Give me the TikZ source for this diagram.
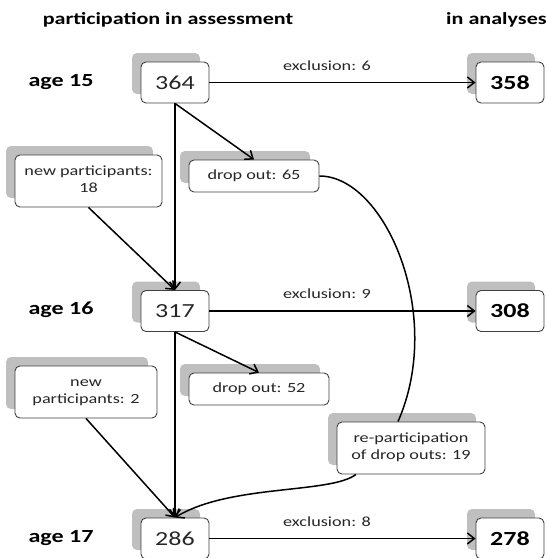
\documentclass[tikz,border=0pt]{standalone}
\usepackage{fontspec}
\setmainfont{Carlito}
\usetikzlibrary{arrows.meta,shadows}
\newcommand\sx[1]{\scalebox{1.3}[1]{#1}}
\definecolor{shadowgray}{HTML}{BFBFBF}
\definecolor{boxline}{HTML}{404040}
\definecolor{txt}{HTML}{262626}
\begin{document}
\begin{tikzpicture}[x=1pt,y=-1pt,
  box/.style={draw=boxline, line width=0.9pt, rounded corners=5pt, fill=white, inner sep=0pt, text=txt,
    general shadow={shadow xshift=-9pt, shadow yshift=9pt, fill=shadowgray}},
  numbox/.style={box, minimum width=68pt, minimum height=41pt, font=\fontsize{20}{24}\selectfont},
  resbox/.style={numbox, text=black, font=\fontsize{20}{24}\selectfont\bfseries},
  smallbox/.style={box, font=\fontsize{14}{17}\selectfont},
  lbl/.style={font=\fontsize{14}{17}\selectfont, inner sep=0pt, text=txt},
  age/.style={font=\fontsize{18.5}{22}\selectfont\bfseries, inner sep=0pt},
  head/.style={font=\fontsize{17}{20}\selectfont\bfseries, inner sep=0pt},
  conn/.style={line width=1.5pt},
  arr/.style={conn, -{Straight Barb[length=7pt,width=11pt]}}
]
\useasboundingbox (0,0) rectangle (547,558);
% headers
\node[head] (h1) at (168,20) {\sx{participation in assessment}};
\node[head, anchor=west] (h2) at (446,20) {\sx{in analyses}};
% age labels
\node[age] (a15) at (61,82) {\sx{age 15}};
\node[age] (a16) at (61,310) {\sx{age 16}};
\node[age] (a17) at (61,538) {\sx{age 17}};
% number boxes
\node[numbox] (n364) at (175,82.5) {\sx{364}};
\node[resbox] (r358) at (510,82.5) {\sx{358}};
\node[numbox] (n317) at (175,311) {\sx{317}};
\node[resbox] (r308) at (510,311) {\sx{308}};
\node[numbox] (n286) at (175,538.5) {\sx{286}};
\node[resbox] (r278) at (510,538.5) {\sx{278}};
% side boxes
\node[smallbox, minimum width=147pt, minimum height=52pt] (np18) at (88.5,181)
  {\sx{\begin{tabular}{@{}c@{}}new participants:\\18\end{tabular}}};
\node[smallbox, minimum width=130pt, minimum height=32pt] (d65) at (254,176) {\sx{drop out: 65}};
\node[smallbox, minimum width=142pt, minimum height=52pt] (np2) at (86,392)
  {\sx{\begin{tabular}{@{}c@{}}new\\participants: 2\end{tabular}}};
\node[smallbox, minimum width=140pt, minimum height=32pt] (d52) at (259,389) {\sx{drop out: 52}};
\node[smallbox, minimum width=148pt, minimum height=52pt] (rp) at (411,448)
  {\sx{\begin{tabular}{@{}c@{}}re-participation\\of drop outs: 19\end{tabular}}};
% exclusion labels
\node[lbl] (e6) at (327,66) {\sx{exclusion: 6}};
\node[lbl] (e9) at (327,294) {\sx{exclusion: 9}};
\node[lbl] (e8) at (327,522) {\sx{exclusion: 8}};
% connectors
\draw[arr] (n364.east) -- (r358.west);
\draw[arr] (n317.east) -- (r308.west);
\draw[arr] (n286.east) -- (r278.west);
\draw[arr] (n364.south) -- (n317.north);
\draw[arr] (n364.south) -- (d65.north);
\draw[arr] (np18.south) -- (n317.north);
\draw[arr] (n317.south) -- (n286.north);
\draw[arr] (n317.south) -- (d52.north);
\draw[arr] (np2.south) -- (n286.north);
\draw[conn] (d65.east) .. controls (385,176) and (445,315) .. ([xshift=-13pt]rp.north);
\draw[arr] ([xshift=-55pt]rp.south) .. controls (330,494) and (230,484) .. (n286.north);
\end{tikzpicture}
\end{document}
